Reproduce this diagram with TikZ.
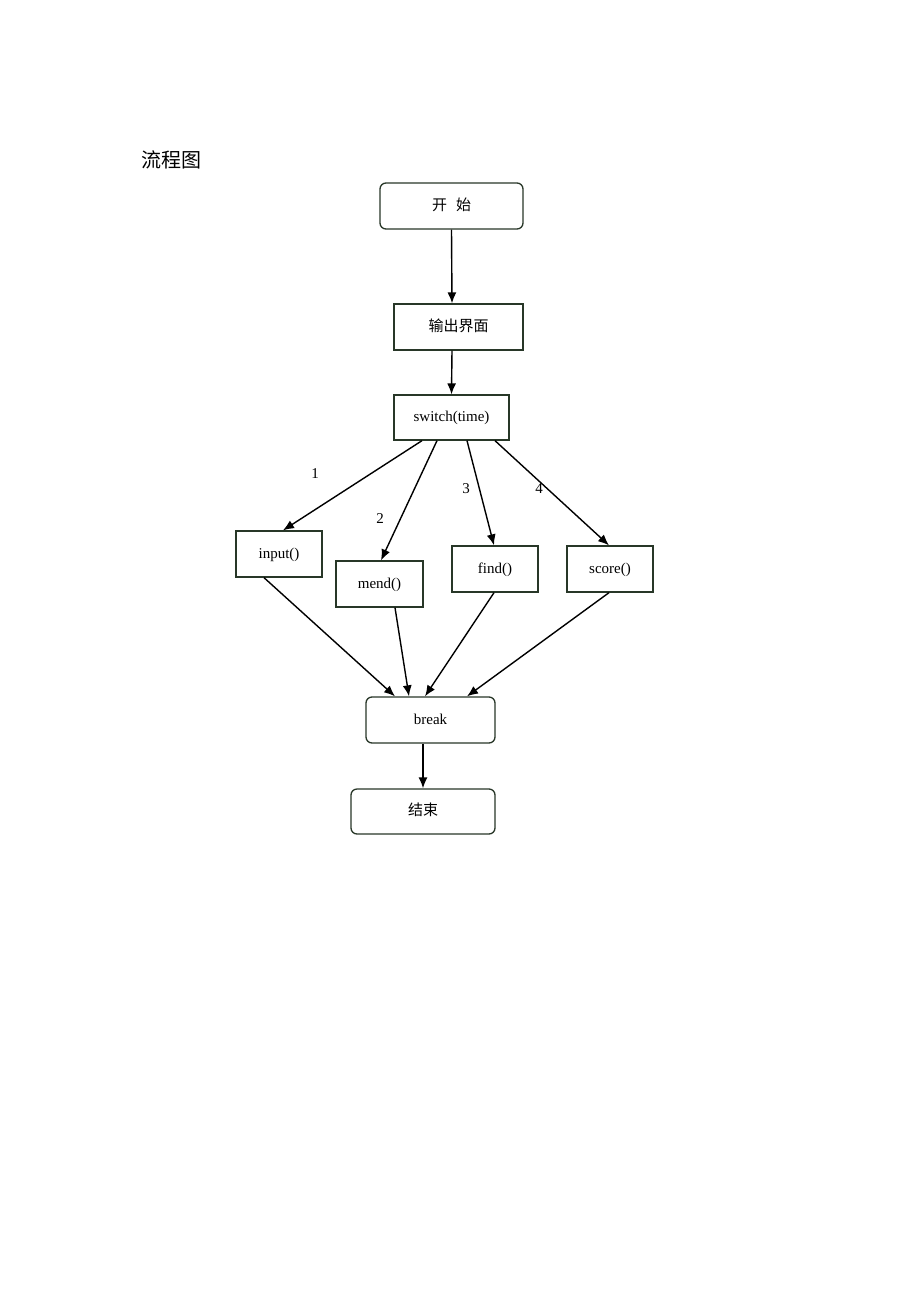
\documentclass[tikz,border=0pt]{standalone}
\usepackage{fontspec}
\setmainfont{Liberation Serif}
\newfontfamily\cjk{Noto Sans CJK SC}
\usetikzlibrary{arrows.meta}
\definecolor{bordc}{RGB}{40,55,40}
\tikzset{
  box/.style={draw=bordc, line width=1.3pt, inner sep=0pt, text height=13pt, text depth=5pt, font=\fontsize{15}{18}\selectfont},
  rbox/.style={box, rounded corners=6pt},
  conn/.style={draw=black, line width=1.4pt, -{Latex[length=11pt,width=9pt]}},
  lbl/.style={font=\fontsize{15}{18}\selectfont, inner sep=0pt}
}
\begin{document}
\begin{tikzpicture}[x=1pt,y=-1pt]
\useasboundingbox[fill=white] (0,0) rectangle (920,1302);
\node[inner sep=0pt, font=\cjk\fontsize{20}{24}\selectfont\mdseries] (title) at (171,160) {流程图};
\node[rbox, minimum width=143pt, minimum height=46pt] (start) at (451.5,206) {\cjk 开\hspace{0.6em}始};
\node[box, minimum width=129pt, minimum height=46pt] (out) at (458.5,327) {\cjk 输出界面};
\node[box, minimum width=115pt, minimum height=45pt] (sw) at (451.5,417.5) {switch(time)};
\node[box, minimum width=86pt, minimum height=46pt] (in) at (279,554) {input()};
\node[box, minimum width=87pt, minimum height=46pt] (mend) at (379.5,584) {mend()};
\node[box, minimum width=86pt, minimum height=46pt] (find) at (495,569) {find()};
\node[box, minimum width=86pt, minimum height=46pt] (score) at (610,569) {score()};
\node[rbox, minimum width=129pt, minimum height=46pt] (brk) at (430.5,720) {break};
\node[rbox, minimum width=144pt, minimum height=45pt] (end) at (423,811.5) {\cjk 结束};
\node[lbl] (l1) at (315,474) {1};
\node[lbl] (l2) at (380,519) {2};
\node[lbl] (l3) at (466,489) {3};
\node[lbl] (l4) at (539,489) {4};
\draw[conn] (start.south) -- ([xshift=-6.5pt]out.north);
\draw[conn] ([xshift=-6.5pt]out.south) -- (sw.north);
\draw[conn] ([xshift=-29.5pt]sw.south) -- ([xshift=4pt]in.north);
\draw[conn] ([xshift=-14.5pt]sw.south) -- ([xshift=1.5pt]mend.north);
\draw[conn] ([xshift=15.5pt]sw.south) -- ([xshift=-1pt]find.north);
\draw[conn] ([xshift=43.5pt]sw.south) -- ([xshift=-1pt]score.north);
\draw[conn] ([xshift=-15pt]in.south) -- ([xshift=-35.5pt]brk.north);
\draw[conn] ([xshift=15.5pt]mend.south) -- ([xshift=-21.5pt]brk.north);
\draw[conn] ([xshift=-1pt]find.south) -- ([xshift=-5.5pt]brk.north);
\draw[conn] ([xshift=-1pt]score.south) -- ([xshift=36.5pt]brk.north);
\draw[conn] ([xshift=-7.5pt]brk.south) -- (end.north);
\end{tikzpicture}
\end{document}
